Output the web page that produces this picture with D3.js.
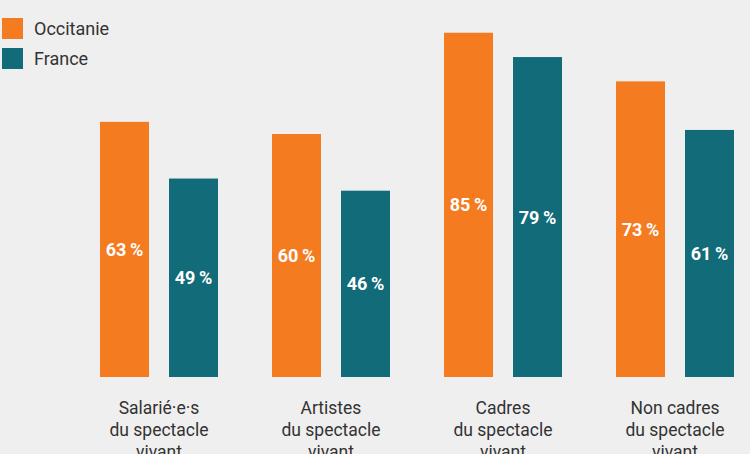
<!DOCTYPE html>
<html><head><meta charset="utf-8">
<script src="https://cdn.jsdelivr.net/npm/d3@7"></script>
<style>
html,body{margin:0;padding:0;background:#efefef;}
svg{display:block;}
</style></head>
<body>
<svg id="chart" width="750" height="454"></svg>
<script>
const categories = [["Salarié·e·s","du spectacle","vivant"],["Artistes","du spectacle","vivant"],["Cadres","du spectacle","vivant"],["Non cadres","du spectacle","vivant"]];
const seriesNames = ["Occitanie","France"];
const occitanie = [63, 60, 85, 73];
const france = [49, 46, 79, 61];
const colors = ["#f47b20","#116b78"];

const svg = d3.select("#chart");
const font = "Roboto, 'Open Sans', sans-serif";
const baseY = 377;
const y = d3.scaleLinear().domain([0, 100]).range([baseY, baseY - 405]);
const catKeys = categories.map((c,i)=>i);
const x0 = d3.scaleBand().domain(catKeys).range([100, 734]).paddingInner(54/172).paddingOuter(0);
const x1 = d3.scaleBand().domain(seriesNames).range([0, x0.bandwidth()]).paddingInner(0.29).paddingOuter(0);

const data = catKeys.map(i => seriesNames.map((s, j) => ({cat: i, series: s, j, value: [occitanie, france][j][i]})));

const g = svg.append("g");
const groups = g.selectAll("g.grp").data(data).join("g").attr("class","grp")
  .attr("transform", (d,i) => `translate(${x0(i)},0)`);
groups.selectAll("rect").data(d=>d).join("rect")
  .attr("x", d => x1(d.series))
  .attr("width", x1.bandwidth())
  .attr("y", d => y(d.value))
  .attr("height", d => y(0) - y(d.value))
  .attr("fill", d => colors[d.j]);
groups.selectAll("text.val").data(d=>d).join("text").attr("class","val")
  .attr("x", d => x1(d.series) + x1.bandwidth()/2)
  .attr("y", d => (y(d.value) + y(0))/2)
  .attr("dy", "0.36em")
  .attr("text-anchor","middle")
  .attr("fill","#fff")
  .attr("font-family", font)
  .attr("font-weight", "700")
  .attr("font-size", 18)
  .text(d => d.value + "\u2009%");

// category labels
const lab = svg.append("g");
categories.forEach((lines, i) => {
  const t = lab.append("text")
    .attr("x", x0(i) + x0.bandwidth()/2)
    .attr("y", 414)
    .attr("text-anchor","middle")
    .attr("fill","#333")
    .attr("font-family", font)
    .attr("font-size", 17.5);
  lines.forEach((l, k) => t.append("tspan").attr("x", x0(i) + x0.bandwidth()/2).attr("dy", k===0?0:22).text(l));
});

// legend
const leg = svg.append("g");
seriesNames.forEach((s, j) => {
  leg.append("rect").attr("x", 2).attr("y", 18 + j*30).attr("width", 21).attr("height", 21).attr("fill", colors[j]);
  leg.append("text").attr("x", 34).attr("y", 18 + j*30 + 17).attr("font-family", font).attr("font-size", 18).attr("fill","#333").text(s);
});
</script>
</body></html>
